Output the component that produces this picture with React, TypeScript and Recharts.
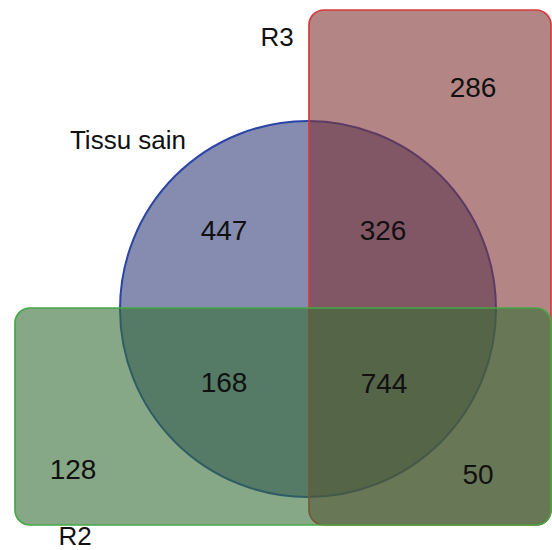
import React from "react";
import { Scatter, ScatterChart, XAxis, YAxis } from "recharts";

// set names and region counts (Tissu sain = circle, R3 = red box, R2 = green box)
const setNames = ["Tissu sain", "R3", "R2"];
const regionKeys = ["T", "R3", "T+R3", "T+R2", "T+R2+R3", "R2", "R2+R3"];
const regionCounts = [447, 286, 326, 168, 744, 128, 50];

// layout in diagram units (y goes down)
const regionPos = [
  [224, 230],
  [473, 87],
  [383, 230],
  [224, 382],
  [384, 383],
  [73, 469],
  [478, 474],
];
const setLabelPos = [
  [128, 140],
  [277, 37],
  [75, 536],
];

const W = 552;
const H = 550;
const X_DOMAIN: [number, number] = [0, W];
const Y_DOMAIN: [number, number] = [0, H];
const pxX = W / (X_DOMAIN[1] - X_DOMAIN[0]);
const pxY = H / (Y_DOMAIN[1] - Y_DOMAIN[0]);

const circle = { x: 308, y: 309, r: 188 };
const boxR3 = { x: 309, y: 10, x2: 551, y2: 525 };
const boxR2 = { x: 15, y: 308, x2: 551, y2: 525 };

const FONT = "'Liberation Sans', Arial, sans-serif";

const countData = regionKeys.map((k, i) => ({
  key: k,
  x: regionPos[i][0],
  y: regionPos[i][1],
  value: regionCounts[i],
}));
const setLabelData = setNames.map((n, i) => ({
  name: n,
  x: setLabelPos[i][0],
  y: setLabelPos[i][1],
}));

const roundedBox = (fill: string, stroke: string) => (p: any) => (
  <rect
    x={p.cx}
    y={p.cy}
    width={(p.payload.x2 - p.payload.x) * pxX}
    height={(p.payload.y2 - p.payload.y) * pxY}
    rx={15 * pxX}
    ry={15 * pxY}
    fill={fill}
    fillOpacity={0.6}
    stroke={stroke}
    strokeWidth={1.7}
  />
);

const textShape = (size: number, field: string) => (p: any) => (
  <text
    x={p.cx}
    y={p.cy}
    textAnchor="middle"
    dominantBaseline="central"
    fontFamily={FONT}
    fontSize={size}
    fill="#111"
  >
    {p.payload[field]}
  </text>
);

export default function App() {
  return (
    <div style={{ position: "fixed", left: 0, top: 0, width: W, height: H, background: "#fff" }}>
      <ScatterChart width={W} height={H} margin={{ top: 0, right: 0, bottom: 0, left: 0 }}>
        <XAxis type="number" dataKey="x" domain={X_DOMAIN} hide allowDataOverflow />
        <YAxis type="number" dataKey="y" domain={Y_DOMAIN} reversed hide allowDataOverflow />
        <Scatter
          data={[circle]}
          isAnimationActive={false}
          shape={(p: any) => (
            <circle
              cx={p.cx}
              cy={p.cy}
              r={p.payload.r * pxX}
              fill="#34407a"
              fillOpacity={0.6}
              stroke="#2a44a8"
              strokeWidth={2}
            />
          )}
        />
        <Scatter data={[boxR3]} isAnimationActive={false} shape={roundedBox("#803434", "#d43a3a")} />
        <Scatter data={[boxR2]} isAnimationActive={false} shape={roundedBox("#356e35", "#44a844")} />
        <Scatter data={countData} isAnimationActive={false} shape={textShape(28, "value")} />
        <Scatter data={setLabelData} isAnimationActive={false} shape={textShape(26, "name")} />
      </ScatterChart>
    </div>
  );
}
